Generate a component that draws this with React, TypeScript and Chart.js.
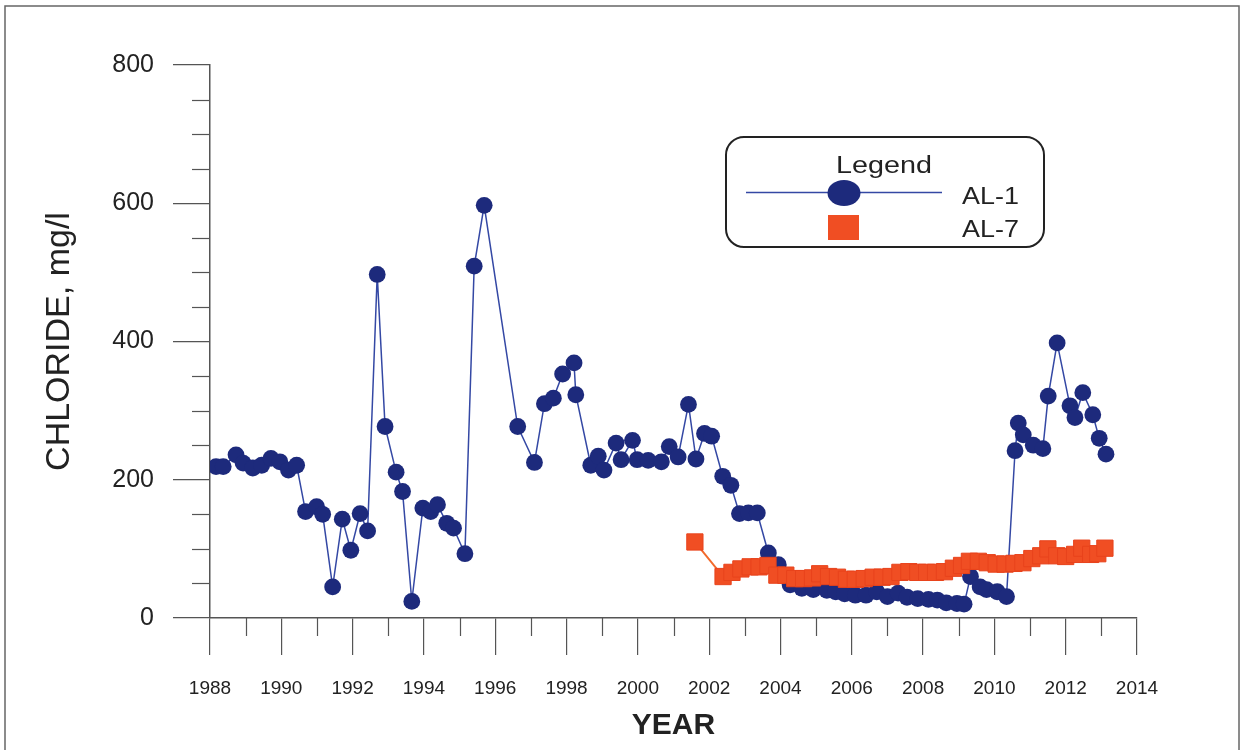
import React, { useEffect, useRef } from "react";
import { Chart, registerables } from "chart.js";

Chart.register(...registerables);

const al1Years = [
  1988.17, 1988.37, 1988.73, 1988.93, 1989.2, 1989.45, 1989.71, 1989.96, 1990.2, 1990.43,
  1990.68, 1990.99, 1991.16, 1991.44, 1991.71, 1991.95, 1992.21, 1992.42, 1992.69, 1992.91,
  1993.22, 1993.4, 1993.66, 1993.97, 1994.19, 1994.38, 1994.64, 1994.83, 1995.15, 1995.41,
  1995.69, 1996.63, 1997.1, 1997.38, 1997.63, 1997.89, 1998.21, 1998.26, 1998.68, 1998.89,
  1999.05, 1999.39, 1999.53, 1999.85, 1999.98, 2000.29, 2000.66, 2000.88, 2001.13, 2001.42,
  2001.63, 2001.87, 2002.07, 2002.38, 2002.61, 2002.85, 2003.1, 2003.35, 2003.66, 2003.94,
  2004.27, 2004.6, 2004.92, 2005.3, 2005.55, 2005.8, 2006.1, 2006.4, 2006.7, 2007.0,
  2007.3, 2007.55, 2007.85, 2008.15, 2008.4, 2008.65, 2008.95, 2009.15, 2009.33, 2009.6,
  2009.78, 2010.08, 2010.34, 2010.58, 2010.67, 2010.81, 2011.09, 2011.36, 2011.51, 2011.76,
  2012.12, 2012.26, 2012.48, 2012.76, 2012.94, 2013.13,
];
const al1Values = [
  219, 219, 236, 224, 217, 221, 231, 226, 214, 221,
  154, 161, 150, 45, 143, 98, 151, 126, 497, 277,
  211, 183, 24, 159, 154, 164, 137, 130, 93, 509,
  597, 277, 225, 310, 318, 353, 369, 323, 221, 234,
  214, 253, 229, 257, 229, 228, 226, 248, 233, 309,
  230, 267, 263, 205, 192, 151, 152, 152, 94, 77,
  48, 43, 41, 40, 38, 35, 33, 33, 38, 31,
  36, 30, 28, 27, 26, 22, 21, 20, 60, 45,
  41, 38, 31, 242, 282, 265, 250, 245, 321, 398,
  307, 290, 326, 294, 260, 237,
];

const al7Years = [
  2001.6, 2002.39, 2002.64, 2002.89, 2003.15, 2003.4, 2003.65, 2003.9, 2004.15, 2004.4,
  2004.65, 2004.9, 2005.1, 2005.35, 2005.6, 2005.85, 2006.1, 2006.35, 2006.6, 2006.85,
  2007.1, 2007.35, 2007.6, 2007.85, 2008.1, 2008.35, 2008.6, 2008.85, 2009.08, 2009.3,
  2009.55, 2009.8, 2010.05, 2010.3, 2010.55, 2010.8, 2011.05, 2011.3, 2011.5, 2011.75,
  2012.0, 2012.25, 2012.45, 2012.7, 2012.9, 2013.1,
];
const al7Values = [
  110, 60, 66, 71, 74, 74, 76, 62, 62, 57,
  57, 58, 64, 60, 59, 56, 56, 57, 59, 59,
  60, 66, 67, 66, 66, 66, 67, 72, 76, 82,
  82, 80, 78, 78, 79, 80, 86, 90, 100, 90,
  89, 92, 101, 92, 93, 101,
];

const seriesNames = ["AL-1", "AL-7"];
const xMin = 1988;
const xMax = 2014;
const yMin = 0;
const yMax = 800;

const NAVY = "#1d2a7c";
const BLUE_LINE = "#3448a4";
const ORANGE = "#f04e23";
const ORANGE_LINE = "#f26a2c";
const AXIS = "#555555";
const TEXT = "#222222";

const framePlugin = {
  id: "frame",
  beforeDraw(chart: any) {
    const ctx = chart.ctx;
    ctx.save();
    ctx.fillStyle = "#ffffff";
    ctx.fillRect(0, 0, chart.width, chart.height);
    ctx.strokeStyle = "#666666";
    ctx.lineWidth = 1.5;
    ctx.strokeRect(5, 6, 1234, 760);
    ctx.restore();
  },
};

const minorTicksPlugin = {
  id: "minorTicks",
  afterDraw(chart: any) {
    const ctx = chart.ctx;
    const xs = chart.scales.x;
    const ys = chart.scales.y;
    const area = chart.chartArea;
    ctx.save();
    ctx.strokeStyle = AXIS;
    ctx.lineWidth = 1.2;
    for (let v = 50; v < yMax; v += 50) {
      if (v % 200 === 0) continue;
      const py = Math.round(ys.getPixelForValue(v)) + 0.5;
      ctx.beginPath();
      ctx.moveTo(area.left - 18, py);
      ctx.lineTo(area.left, py);
      ctx.stroke();
    }
    for (let yr = xMin + 1; yr < xMax; yr += 2) {
      const px = Math.round(xs.getPixelForValue(yr)) + 0.5;
      ctx.beginPath();
      ctx.moveTo(px, area.bottom);
      ctx.lineTo(px, area.bottom + 18);
      ctx.stroke();
    }
    ctx.restore();
  },
};

const legendPlugin = {
  id: "customLegend",
  afterDraw(chart: any) {
    const ctx = chart.ctx;
    ctx.save();
    const x = 726, y = 137, w = 318, h = 110, r = 18;
    ctx.beginPath();
    ctx.moveTo(x + r, y);
    ctx.lineTo(x + w - r, y);
    ctx.arcTo(x + w, y, x + w, y + r, r);
    ctx.lineTo(x + w, y + h - r);
    ctx.arcTo(x + w, y + h, x + w - r, y + h, r);
    ctx.lineTo(x + r, y + h);
    ctx.arcTo(x, y + h, x, y + h - r, r);
    ctx.lineTo(x, y + r);
    ctx.arcTo(x, y, x + r, y, r);
    ctx.closePath();
    ctx.fillStyle = "#ffffff";
    ctx.fill();
    ctx.strokeStyle = "#222222";
    ctx.lineWidth = 2;
    ctx.stroke();

    ctx.fillStyle = TEXT;
    ctx.font = '23px "Liberation Sans", Arial, sans-serif';
    ctx.textBaseline = "alphabetic";
    ctx.save();
    ctx.translate(884, 173);
    ctx.scale(1.25, 1);
    ctx.textAlign = "center";
    ctx.fillText("Legend", 0, 0);
    ctx.restore();

    ctx.strokeStyle = BLUE_LINE;
    ctx.lineWidth = 1.5;
    ctx.beginPath();
    ctx.moveTo(746, 192.5);
    ctx.lineTo(942, 192.5);
    ctx.stroke();
    ctx.fillStyle = NAVY;
    ctx.beginPath();
    ctx.ellipse(844, 193, 16.5, 13, 0, 0, Math.PI * 2);
    ctx.fill();

    ctx.fillStyle = ORANGE;
    ctx.fillRect(828, 215, 31, 25);

    ctx.fillStyle = TEXT;
    ctx.textAlign = "left";
    ctx.save();
    ctx.translate(962, 204);
    ctx.scale(1.17, 1);
    ctx.fillText(seriesNames[0], 0, 0);
    ctx.restore();
    ctx.save();
    ctx.translate(962, 237);
    ctx.scale(1.17, 1);
    ctx.fillText(seriesNames[1], 0, 0);
    ctx.restore();
    ctx.restore();
  },
};

export default function App() {
  const canvasRef = useRef<HTMLCanvasElement | null>(null);

  useEffect(() => {
    if (!canvasRef.current) return;
    const chart = new Chart(canvasRef.current, {
      type: "line",
      data: {
        datasets: [
          {
            label: seriesNames[0],
            data: al1Years.map((x, i) => ({ x, y: al1Values[i] })),
            borderColor: BLUE_LINE,
            borderWidth: 1.5,
            backgroundColor: NAVY,
            pointBackgroundColor: NAVY,
            pointBorderColor: NAVY,
            pointBorderWidth: 0,
            pointRadius: 8.4,
            pointStyle: "circle",
            tension: 0,
            order: 2,
          },
          {
            label: seriesNames[1],
            data: al7Years.map((x, i) => ({ x, y: al7Values[i] })),
            borderColor: ORANGE_LINE,
            borderWidth: 2,
            backgroundColor: ORANGE,
            pointBackgroundColor: ORANGE,
            pointBorderColor: "#e8431c",
            pointBorderWidth: 1,
            pointRadius: 11.5,
            pointStyle: "rect",
            tension: 0,
            order: 1,
          },
        ],
      },
      options: {
        responsive: false,
        animation: false,
        devicePixelRatio: 1,
        layout: { padding: { left: 0, top: 65, right: 105, bottom: 0 } },
        plugins: {
          legend: { display: false },
          tooltip: { enabled: false },
        },
        scales: {
          x: {
            type: "linear",
            min: xMin,
            max: xMax,
            afterFit(scale: any) {
              scale.height = 132;
            },
            ticks: {
              stepSize: 2,
              autoSkip: false,
              maxRotation: 0,
              padding: 22,
              color: TEXT,
              font: { family: '"Liberation Sans", Arial, sans-serif', size: 19 },
              callback: (v: any) => String(v),
            },
            grid: {
              drawOnChartArea: false,
              drawTicks: true,
              tickLength: 37,
              color: AXIS,
              lineWidth: 1.2,
            },
            border: { display: true, color: AXIS, width: 1.5 },
            title: {
              display: true,
              text: "YEAR",
              color: TEXT,
              font: { family: '"Liberation Sans", Arial, sans-serif', size: 30, weight: "bold" },
              padding: { top: 0, bottom: 6 },
            },
          },
          y: {
            type: "linear",
            min: yMin,
            max: yMax,
            afterFit(scale: any) {
              scale.width = 210;
            },
            ticks: {
              stepSize: 200,
              padding: 19,
              color: TEXT,
              font: { family: '"Liberation Sans", Arial, sans-serif', size: 25 },
              callback: (v: any) => String(v),
            },
            grid: {
              drawOnChartArea: false,
              drawTicks: true,
              tickLength: 37,
              color: AXIS,
              lineWidth: 1.2,
            },
            border: { display: true, color: AXIS, width: 1.5 },
            title: {
              display: true,
              text: "CHLORIDE, mg/l",
              color: TEXT,
              font: { family: '"Liberation Sans", Arial, sans-serif', size: 34 },
              padding: { top: 39, bottom: 0 },
            },
          },
        },
      },
      plugins: [framePlugin, minorTicksPlugin, legendPlugin],
    } as any);
    return () => chart.destroy();
  }, []);

  return (
    <div style={{ position: "absolute", left: 0, top: 0, width: 1242, height: 750 }}>
      <canvas ref={canvasRef} width={1242} height={750} style={{ display: "block" }} />
    </div>
  );
}
